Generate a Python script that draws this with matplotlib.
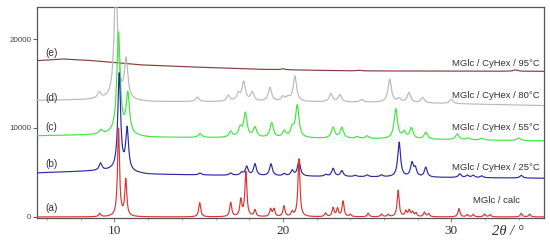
import numpy as np
import matplotlib
matplotlib.use("Agg")
import matplotlib.pyplot as plt

# ---------------- data ----------------
# Peak positions (2theta, deg) and heights (counts above background)
calc_pos = [9.12, 10.24, 10.67, 15.06, 16.90, 17.50, 17.80, 18.34, 19.27, 19.47,
            20.06, 20.55, 20.95, 22.53, 22.98, 23.24, 23.57, 24.00, 25.06, 25.85,
            26.25, 26.84, 27.30, 27.50, 27.70, 27.90, 28.40, 28.65, 30.45, 30.95,
            31.30, 31.97, 32.30, 34.15, 34.65]
calc_h = [370, 9870, 4090, 1600, 1600, 1860, 5030, 740, 850, 850,
          1190, 500, 6500, 400, 1000, 900, 1740, 250, 400, 300,
          250, 2970, 600, 700, 500, 400, 500, 350, 930, 250,
          250, 300, 250, 400, 300]
calc_bg_x = [5.4, 35.5]
calc_bg_y = [0, 0]

t25_pos = [9.17, 10.28, 10.75, 15.08, 16.90, 17.55, 17.85, 18.34, 19.29, 20.08,
           20.55, 20.95, 22.55, 22.98, 23.50, 24.30, 25.00, 25.85, 26.90, 27.66,
           27.86, 28.48, 30.50, 30.95, 31.30, 31.80, 34.15]
t25_h = [800, 10900, 4700, 200, 250, 300, 1000, 1300, 1350, 250,
         600, 1750, 200, 900, 650, 150, 200, 200, 3900, 1500,
         900, 1100, 400, 250, 250, 200, 300]
t25_bg_x = [5.4, 8.5, 9.8, 12.0, 20.0, 27.0, 35.5]
t25_bg_y = [4950, 5150, 5200, 4800, 4580, 4470, 4350]

t55_pos = [9.19, 10.24, 10.79, 15.08, 16.90, 17.46, 17.77, 18.34, 19.33, 20.08,
           20.55, 20.85, 22.98, 23.50, 24.40, 25.00, 26.70, 27.20, 27.63, 28.48,
           30.35, 31.00, 31.80, 34.00]
t55_h = [450, 11400, 4500, 450, 650, 1000, 2700, 1100, 1650, 700,
         1000, 3600, 1200, 1200, 200, 300, 3350, 700, 1200, 750,
         650, 200, 200, 300]
t55_bg_x = [5.4, 9.8, 12.0, 20.0, 27.0, 35.5]
t55_bg_y = [9120, 9250, 8950, 8860, 8750, 8550]

t80_pos = [9.09, 10.08, 10.69, 14.92, 16.76, 17.35, 17.67, 18.18, 19.23, 20.00,
           20.30, 20.71, 22.85, 23.38, 24.67, 26.34, 26.90, 27.48, 28.30, 30.00]
t80_h = [700, 13500, 4400, 500, 650, 800, 2150, 1000, 1550, 500,
         400, 2850, 900, 800, 300, 2600, 400, 1100, 600, 500]
t80_bg_x = [5.4, 9.5, 12.0, 20.0, 27.0, 35.5]
t80_bg_y = [13100, 13200, 12950, 12950, 12850, 12520]

t95_pos = [20.0, 24.5, 33.8]
t95_h = [100, 80, 150]
t95_bg_x = [5.4, 6.9, 8.5, 11.5, 14.0, 18.5, 24.0, 35.5]
t95_bg_y = [17570, 17760, 17600, 17100, 16900, 16600, 16420, 16370]

series_names = ["MGlc / calc", "MGlc / CyHex / 25°C", "MGlc / CyHex / 55°C",
                "MGlc / CyHex / 80°C", "MGlc / CyHex / 95°C"]
series_tags = ["(a)", "(b)", "(c)", "(d)", "(e)"]
x_ticks = [10, 20, 30]
y_ticks = [0, 10000, 20000]

# ---------------- styling ----------------
colors = ["#dd3333", "#2a2aa6", "#3ee83e", "#b9b9b9", "#8a3b3b"]
fwhm = [0.14, 0.2, 0.24, 0.24, 0.3]
tag_y = [1040, 5960, 10120, 13400, 18430]
name_y = [1850, 5590, 10050, 13660, 17200]

x = np.linspace(5.4, 35.5, 4000)


def pattern(pos, h, bgx, bgy, w):
    y = np.interp(x, bgx, bgy).astype(float)
    g = w / 2.0
    for p, a in zip(pos, h):
        y += a * g**2 / ((x - p)**2 + g**2)
    return y


data = [
    (calc_pos, calc_h, calc_bg_x, calc_bg_y),
    (t25_pos, t25_h, t25_bg_x, t25_bg_y),
    (t55_pos, t55_h, t55_bg_x, t55_bg_y),
    (t80_pos, t80_h, t80_bg_x, t80_bg_y),
    (t95_pos, t95_h, t95_bg_x, t95_bg_y),
]

fig = plt.figure(figsize=(5.5, 2.44), dpi=100)
ax = fig.add_axes([37/550, 26/244, 507/550, 211/244])

# draw from top series to bottom so lower ones overlay
for i in [4, 3, 2, 1, 0]:
    pos, h, bgx, bgy = data[i]
    ax.plot(x, pattern(pos, h, bgx, bgy, fwhm[i]), color=colors[i], lw=0.85,
            zorder=2 + (4 - i))

ax.set_xlim(5.4, 35.5)
ax.set_ylim(-120, 23600)

for s in ax.spines.values():
    s.set_color("#555555")
    s.set_linewidth(0.9)

ax.set_xticks(x_ticks)
ax.set_xticklabels([str(v) for v in x_ticks], family="Liberation Serif",
                   fontsize=9.5, color="#333333")
ax.set_xticks(np.arange(6, 36, 2), minor=True)
ax.tick_params(axis="x", which="major", direction="out", length=3, width=0.8,
               color="#888888", pad=2)
ax.tick_params(axis="x", which="minor", direction="out", length=1.5, width=0.6,
               color="#999999")
ax.set_yticks(y_ticks)
ax.set_yticklabels([str(v) for v in y_ticks], family="Liberation Sans",
                   fontsize=5.8, color="#444444")
ax.tick_params(axis="y", direction="out", length=3, width=0.8, color="#666666",
               pad=1)

for i in range(5):
    ax.text(6.25, tag_y[i], series_tags[i], fontsize=7.3, family="Liberation Sans",
            color="#333333", ha="center", va="center", zorder=10)
    if i == 0:
        ax.text(32.7, name_y[i], series_names[i], fontsize=6.8,
                family="Liberation Sans", color="#333333", ha="center",
                va="center", zorder=10)
    else:
        ax.text(35.23, name_y[i], series_names[i], fontsize=6.8,
                family="Liberation Sans", color="#333333", ha="right",
                va="center", zorder=10)

ax.text(0.929, -0.066, "2θ / °", transform=ax.transAxes, fontsize=10.5,
        family="Liberation Serif", style="italic", color="#333333",
        ha="center", va="center")

fig.savefig("out.png", dpi=100)
